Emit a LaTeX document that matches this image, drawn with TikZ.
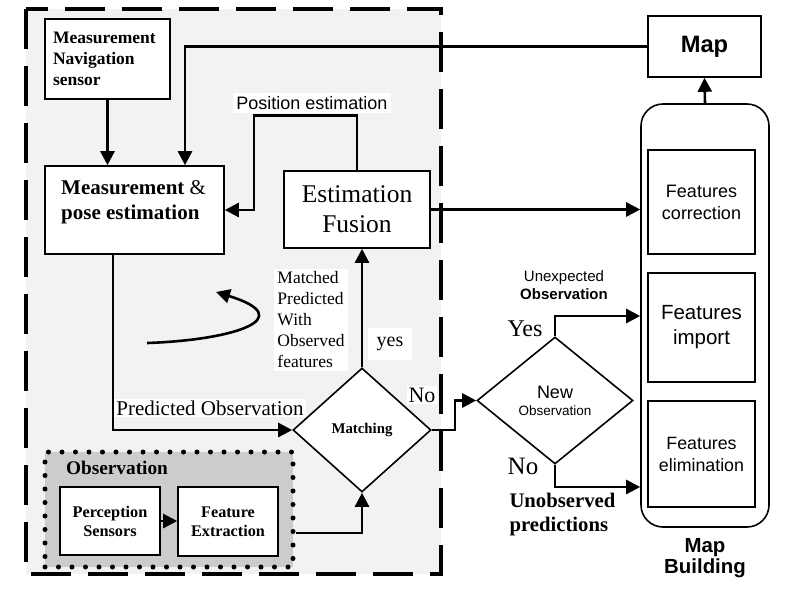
\documentclass[tikz,border=0pt]{standalone}
\usepackage{fontspec}
\setmainfont{Liberation Serif}
\setsansfont{Liberation Sans}
\usetikzlibrary{shapes.geometric,arrows.meta}
\definecolor{panel}{RGB}{242,242,242}
\definecolor{obsgray}{RGB}{204,204,204}
\newcommand\fsz[2]{\fontsize{#1}{#2}\selectfont}
\begin{document}
\begin{tikzpicture}[x=1pt,y=-1pt,
  box/.style={draw, line width=1.6pt, fill=white, inner sep=0pt},
  arr/.style={line width=2.6pt, -{Triangle[length=14pt,width=14pt]}},
  conn/.style={line width=2.6pt},
  lbl/.style={fill=white, inner sep=3pt},
  dia/.style={diamond, draw, line width=1.6pt, fill=white, inner sep=0pt},
]
\useasboundingbox (0,0) rectangle (803,600);
\fill[white] (0,0) rectangle (803,600);
% panel
\filldraw[fill=panel, line width=4pt, dash pattern=on 40pt off 17pt] (26,9) rectangle (441,574);

% boxes
\node[box, minimum width=125, minimum height=80, text width=109, align=left,
      font=\bfseries\fsz{17.5}{21}] (mns) at (107.5,59) {Measurement\\Navigation\\sensor};
\node[box, minimum width=179, minimum height=88] (mpe) at (134.5,210) {};
\node[anchor=north west, inner sep=0pt, align=left, font=\fsz{21}{25}] (mpet) at (61,180)
  {\textbf{Measurement} \&\\\textbf{pose estimation}};
\node[box, minimum width=146, minimum height=77, align=center, font=\fsz{25.5}{30}] (ef) at (357,209.5) {Estimation\\Fusion};
\node[box, minimum width=113, minimum height=61, font=\sffamily\bfseries\fsz{23.7}{28}] (map) at (704.5,46.5) {Map};
\node[draw, line width=1.6pt, rounded corners=22pt, minimum width=128, minimum height=423, fill=white] (mb) at (705,315.5) {};
\node[box, minimum width=107, minimum height=104, align=center, font=\sffamily\fsz{18}{22}] (fc) at (701.5,202) {Features\\correction};
\node[box, minimum width=107, minimum height=109, align=center, font=\sffamily\fsz{20.5}{25}] (fi) at (701.5,327.5) {Features\\import};
\node[box, minimum width=107, minimum height=106, align=center, font=\sffamily\fsz{17.8}{22}] (fe) at (701.5,454) {Features\\elimination};
\node[align=center, font=\sffamily\bfseries\fsz{20.4}{21.5}] (mbl) at (705,558) {Map\\Building};

% diamonds
\node[dia, minimum width=138, minimum height=124, font=\bfseries\fsz{14.8}{17}] (match) at (362,430) {Matching};
\node[dia, minimum width=156, minimum height=127, align=center, font=\sffamily] (nobs) at (555,400.5)
  {{\fsz{18}{20}New}\\[5pt]{\fsz{13.5}{16}Observation}};

% observation group
\node[draw, fill=obsgray, line width=5pt, dash pattern=on 0pt off 13.5pt, line cap=round,
      minimum width=248, minimum height=115] (obs) at (169,509.5) {};
\node[font=\bfseries\fsz{19.3}{22}] (obst) at (117,468) {Observation};
\node[box, minimum width=100, minimum height=68, align=center, font=\bfseries\fsz{16.3}{19}] (ps) at (110,521) {Perception\\Sensors};
\node[box, minimum width=100, minimum height=69, align=center, font=\bfseries\fsz{16.2}{19}] (fx) at (228,521.5) {Feature\\Extraction};

% labels
\node[lbl, font=\sffamily\fsz{18}{20}] (pe) at (312,103) {Position estimation};
\node[lbl, font=\fsz{17.5}{21}, align=left] (mpwo) at (311,320) {Matched\\Predicted\\With\\Observed\\features};
\node[lbl, inner sep=9pt, font=\fsz{20}{22}] (yes) at (390,344) {yes};
\node[lbl, inner sep=2pt, font=\fsz{22}{24}] (no1) at (422,395) {No};
\node[lbl, inner sep=2pt, font=\fsz{21}{24}] (po) at (210,408) {Predicted Observation};
\node[font=\fsz{24}{26}] (yes2) at (525,329) {Yes};
\node[font=\fsz{25}{27}] (no2) at (523,466) {No};
\node[font=\sffamily\fsz{15}{18.5}, align=center] (unexp) at (564,285) {Unexpected\\\textbf{Observation}};
\node[font=\bfseries\fsz{20.7}{24}, align=left, anchor=west] (unobs) at (506,515) {Unobserved\\predictions};

% connectors
\draw[arr] (mns.south) -- (mns.south |- mpe.north);
\draw[arr] (map.west) -| (185,0 |- mpe.north);
\draw[arr] (ef.north) -- ++(0,-55) -| (254,0 |- mpe.east) -- (mpe.east);
\draw[arr] (ef.east) -- (ef.east -| mb.west);
\draw[arr] (mb.north) -- (map.south);
\draw[arr] (113,0 |- mpe.south) |- (match.west);
\draw[arr] (match.north) -- (match.north |- ef.south);
\draw[arr] (ps.east) -- (ps.east -| fx.west);
\draw[arr] (obs.east |- 0,533) -| (match.south);
\draw[arr] (match.east) -- ++(23,0) |- (nobs.west);
\draw[arr] (nobs.north) |- (mb.west |- 0,316);
\draw[arr] (nobs.south) |- (mb.west |- 0,487);
\draw[arr] (147,343) .. controls (235,340) and (300,318) .. (216,292);
\end{tikzpicture}
\end{document}
